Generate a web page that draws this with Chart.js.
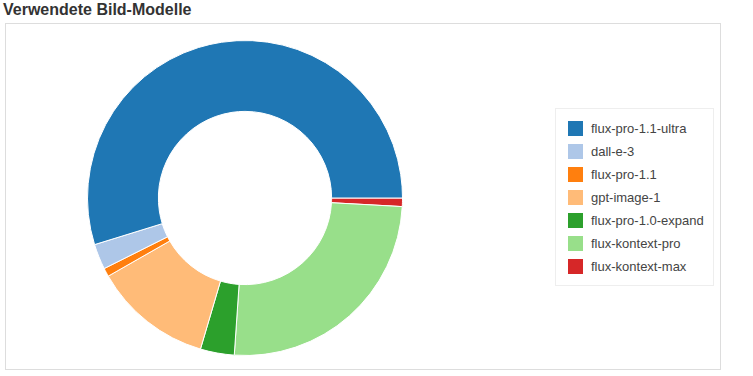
<!DOCTYPE html>
<html>
<head>
<meta charset="utf-8">
<script src="https://cdn.jsdelivr.net/npm/chart.js@4.4.1/dist/chart.umd.min.js"></script>
<style>
  html, body { margin: 0; padding: 0; background: #fff; }
  body { width: 753px; height: 376px; position: relative; overflow: hidden; font-family: "Liberation Sans", Arial, sans-serif; }
  #title { position: absolute; left: 3px; top: 1px; font-size: 16px; font-weight: bold; color: #333; white-space: nowrap; }
  #frame { position: absolute; left: 5px; top: 23px; width: 716px; height: 347px; border: 1px solid #ddd; box-sizing: border-box; }
  #chartWrap { position: absolute; left: 87px; top: 40px; width: 316px; height: 316px; }
  #legend { position: absolute; left: 555px; top: 108px; width: 159px; height: 178px; border: 1px solid #eee; box-sizing: border-box; }
  .item { position: absolute; left: 12px; height: 15px; }
  .sw { position: absolute; left: 0; top: 0; width: 15px; height: 15px; }
  .lbl { position: absolute; left: 23px; top: -1px; font-size: 13px; line-height: 17px; color: #444; white-space: nowrap; }
</style>
</head>
<body>
<div id="title">Verwendete Bild-Modelle</div>
<div id="frame"></div>
<div id="chartWrap"><canvas id="c" width="316" height="316"></canvas></div>
<div id="legend"></div>
<script>
const labels = ["flux-pro-1.1-ultra", "dall-e-3", "flux-pro-1.1", "gpt-image-1", "flux-pro-1.0-expand", "flux-kontext-pro", "flux-kontext-max"];
const values = [63, 3, 1, 14, 4, 29, 1];
const colors = ["#1f77b4", "#aec7e8", "#ff7f0e", "#ffbb78", "#2ca02c", "#98df8a", "#d62728"];

// The reference draws slices counter-clockwise from 3 o'clock; Chart.js draws clockwise,
// so feed the library the reversed order.
const rLabels = labels.slice().reverse();
const rValues = values.slice().reverse();
const rColors = colors.slice().reverse();

new Chart(document.getElementById('c'), {
  type: 'doughnut',
  data: {
    labels: rLabels,
    datasets: [{
      data: rValues,
      backgroundColor: rColors,
      borderColor: '#ffffff',
      borderWidth: 1
    }]
  },
  options: {
    responsive: false,
    animation: false,
    rotation: 90,
    cutout: '55%',
    layout: { padding: 0 },
    plugins: { legend: { display: false }, tooltip: { enabled: false } }
  }
});

const legend = document.getElementById('legend');
labels.forEach((l, i) => {
  const it = document.createElement('div');
  it.className = 'item';
  it.style.top = (12 + i * 23) + 'px';
  it.innerHTML = '<div class="sw" style="background:' + colors[i] + '"></div><div class="lbl"></div>';
  it.querySelector('.lbl').textContent = l;
  legend.appendChild(it);
});
</script>
</body>
</html>
